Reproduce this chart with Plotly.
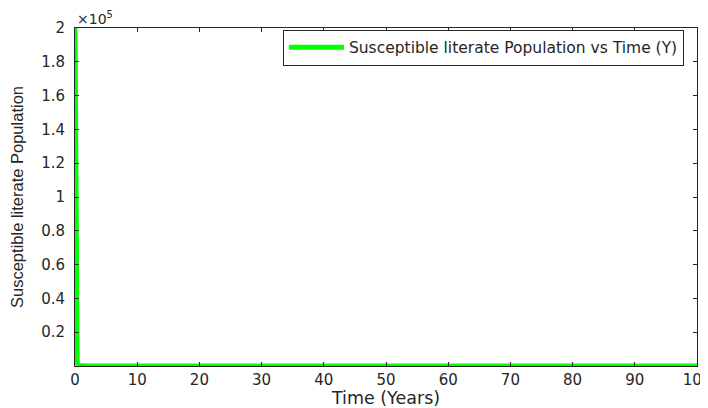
import plotly.graph_objects as go

time_years = [0, 0.2, 0.35, 0.5, 1, 2, 5, 100]
susceptible_literate = [200000, 20000, 2000, 300, 40, 5, 1, 0]

y_tick_vals = [20000, 40000, 60000, 80000, 100000, 120000, 140000, 160000, 180000, 200000]
y_tick_text = ["0.2", "0.4", "0.6", "0.8", "1", "1.2", "1.4", "1.6", "1.8", "2"]
x_tick_vals = [0, 10, 20, 30, 40, 50, 60, 70, 80, 90, 100]

TXT = "#262626"
fig = go.Figure()
fig.add_trace(go.Scatter(
    x=time_years, y=susceptible_literate, mode="lines",
    line=dict(color="#00ff00", width=5), cliponaxis=False,
    name="Susceptible literate Population vs Time (Y)",
))

tickfont = dict(family="DejaVu Sans, sans-serif", size=15, color=TXT)
fig.update_layout(
    width=700, height=400,
    margin=dict(l=67, r=11, t=20, b=42),
    paper_bgcolor="white", plot_bgcolor="white",
    font=tickfont,
    showlegend=True,
    legend=dict(x=0.979, y=0.942, xanchor="right", yanchor="middle",
                bordercolor=TXT, borderwidth=1, bgcolor="white",
                font=dict(family="DejaVu Sans, sans-serif", size=15.5, color=TXT),
                itemwidth=55, tracegroupgap=0),
    xaxis=dict(range=[0, 100], tickvals=x_tick_vals, ticks="inside", ticklen=4,
               showline=True, linecolor=TXT, linewidth=1, mirror="ticks",
               showgrid=False, zeroline=False, tickcolor=TXT, automargin=False,
               tickfont=tickfont, ticklabeloverflow="allow",
               title=dict(text="Time (Years)", standoff=3,
                          font=dict(family="DejaVu Sans, sans-serif", size=17.5, color=TXT))),
    yaxis=dict(range=[0, 200000], tickvals=y_tick_vals, ticktext=y_tick_text,
               ticks="inside", ticklen=4, ticklabelstandoff=6,
               showline=True, linecolor=TXT, linewidth=1, mirror="ticks",
               showgrid=False, zeroline=False, tickcolor=TXT, automargin=False,
               tickfont=tickfont,
               title=dict(text="Susceptible literate Population", standoff=13,
                          font=dict(family="Liberation Sans, Arial, sans-serif", size=16.5, color=TXT))),
)
fig.add_annotation(xref="paper", yref="paper", x=0.0, y=1.0, xanchor="left", yanchor="bottom",
                   text="×10<sup>5</sup>", showarrow=False, yshift=-1,
                   font=dict(family="DejaVu Sans, sans-serif", size=14, color=TXT))
fig.write_html("out.html")
